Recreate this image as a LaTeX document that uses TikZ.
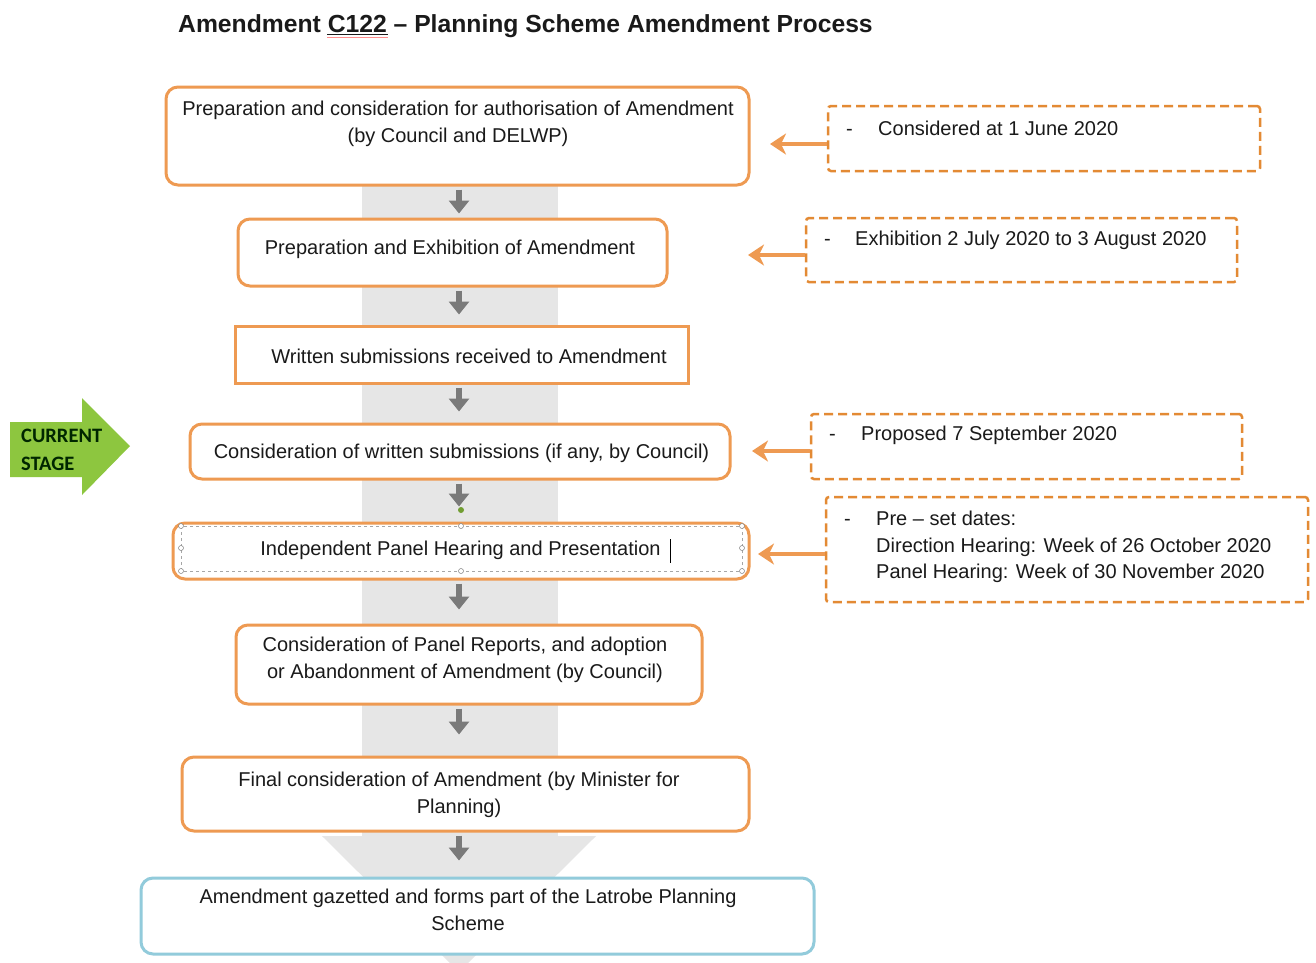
\documentclass[tikz,border=0pt]{standalone}
\usepackage{fontspec}
\setmainfont{Liberation Sans}
\newfontfamily\calib{Carlito}
\usetikzlibrary{arrows.meta}
\definecolor{obord}{HTML}{EE9A52}
\definecolor{odash}{HTML}{E38A34}
\definecolor{bbord}{HTML}{92CBDB}
\definecolor{gband}{HTML}{E6E6E6}
\definecolor{garr}{HTML}{7A7A7A}
\definecolor{cgreen}{HTML}{8DC63F}
\definecolor{txtc}{HTML}{1A1A1A}
\begin{document}
\begin{tikzpicture}[x=1pt,y=-1pt,
  box/.style={draw=obord, line width=3pt, rounded corners=12pt, fill=white, inner sep=0pt},
  sqbox/.style={box, rounded corners=0pt},
  bluebox/.style={box, draw=bbord},
  note/.style={draw=odash, line width=2.5pt, dash pattern=on 9pt off 5pt, rounded corners=3pt, inner sep=0pt},
  txt/.style={font=\fontsize{20}{27}\selectfont, text=txtc, align=center, inner sep=0pt},
  gar/.style={draw=garr, line width=6.5pt, -{Triangle[length=13pt,width=20pt]}, shorten <=3pt},
  oar/.style={draw=obord, line width=4pt, -{Stealth[length=16pt,width=21pt,inset=5pt]}},
  handle/.style={draw=gray, fill=white, line width=0.5pt}
]
\useasboundingbox (0,0) rectangle (1316,962);
\fill[white] (0,0) rectangle (1316,962);

% background band
\fill[gband] (362,150) rectangle (558,840);
\fill[gband] (322,836) -- (596,836) -- (459,972) -- cycle;

% title
\node[anchor=base west, inner sep=0pt, text=txtc, font=\bfseries\fontsize{24.7}{28}\selectfont] (title) at (178,32) {Amendment C122 -- Planning Scheme Amendment Process};
\draw[txtc, line width=1.3pt] (327,34.5) -- (388,34.5);
\draw[red!45, line width=0.9pt] (327,37.5) -- (388,37.5);

% main boxes
\node[box, minimum width=583pt, minimum height=98pt] (b1) at (457.5,136) {};
\node[box, minimum width=429pt, minimum height=67pt] (b2) at (452.5,252.5) {};
\node[sqbox, minimum width=453pt, minimum height=57pt] (b3) at (461.5,354.5) {};
\node[box, minimum width=540pt, minimum height=55pt] (b4) at (460,451.5) {};
\node[box, minimum width=576pt, minimum height=56pt] (b5) at (461,551) {};
\node[box, minimum width=466pt, minimum height=79pt] (b6) at (469,664.5) {};
\node[box, minimum width=567pt, minimum height=74pt] (b7) at (465.5,794) {};
\node[bluebox, minimum width=673pt, minimum height=76pt] (b8) at (477.5,916) {};

% texts
\node[txt] (l1) at (458,123.5) {Preparation and consideration for authorisation of Amendment\\(by Council and DELWP)};
\node[txt] (l2) at (450,249) {Preparation and Exhibition of Amendment};
\node[txt] (l3) at (469,356) {Written submissions received to Amendment};
\node[txt] (l4) at (461.5,453) {Consideration of written submissions (if any, by Council)};
\node[txt] (l5) at (460.5,550) {Independent Panel Hearing and Presentation};
\node[txt] (l6) at (465,659.5) {Consideration of Panel Reports, and adoption\\or Abandonment of Amendment (by Council)};
\node[txt] (l7) at (459,794.5) {Final consideration of Amendment (by Minister for\\Planning)};
\node[txt] (l8) at (468,909.5) {Amendment gazetted and forms part of the Latrobe Planning\\Scheme};

% selection frame on box 5
\draw[gray!70, dashed, line width=0.6pt] (181,526) rectangle (742,571);
\foreach \p in {(181,526),(742,526),(181,571),(742,571),(461,526),(461,571),(181,548),(742,548)}
  \draw[handle] \p circle (2.5pt);
\fill[cgreen!80!black] (461,510) circle (3pt);
\draw[black, line width=0.8pt] (670,539) -- (670,563);

% grey flow arrows
\coordinate (ax) at (459,0);
\draw[gar, shorten >=4pt] (b1.south -| ax) -- (b2.north -| ax);
\draw[gar, shorten >=10pt] (b2.south -| ax) -- (b3.north -| ax);
\draw[gar, shorten >=11pt] (b3.south -| ax) -- (b4.north -| ax);
\draw[gar, shorten >=15pt] (b4.south -| ax) -- (b5.north -| ax);
\draw[gar, shorten >=14pt] (b5.south -| ax) -- (b6.north -| ax);
\draw[gar, shorten >=21pt] (b6.south -| ax) -- (b7.north -| ax);
\draw[gar, shorten >=16pt] (b7.south -| ax) -- (b8.north -| ax);

% notes
\node[note, minimum width=432pt, minimum height=65pt] (n1) at (1044,138.5) {};
\node[note, minimum width=431pt, minimum height=64pt] (n2) at (1021.5,250) {};
\node[note, minimum width=431pt, minimum height=65pt] (n3) at (1026.5,446.5) {};
\node[note, minimum width=482pt, minimum height=105pt] (n4) at (1067,549.5) {};

\node[txt, anchor=west, align=left] (m1) at (846,128.5) {\makebox[32pt][l]{-}Considered at 1 June 2020};
\node[txt, anchor=west, align=left] (m2) at (824,240.5) {\makebox[31pt][l]{-}Exhibition 2 July 2020 to 3 August 2020};
\node[txt, anchor=west, align=left] (m3) at (829,435.5) {\makebox[32pt][l]{-}Proposed 7 September 2020};
\node[txt, anchor=west, align=left, font=\fontsize{20}{26.5}\selectfont] (m4) at (844,547) {\makebox[32pt][l]{-}Pre -- set dates:\\\hspace*{32pt}Direction Hearing: Week of 26 October 2020\\\hspace*{32pt}Panel Hearing: Week of 30 November 2020};

% orange pointers
\coordinate (t1) at (770,144);
\coordinate (t2) at (748,255);
\coordinate (t3) at (752,451);
\coordinate (t4) at (758,554);
\draw[oar] (n1.west |- t1) -- (t1);
\draw[oar] (n2.west |- t2) -- (t2);
\draw[oar] (n3.west |- t3) -- (t3);
\draw[oar] (n4.west |- t4) -- (t4);

% current stage arrow
\fill[cgreen] (10,422) -- (82,422) -- (82,398) -- (130,446) -- (82,495) -- (82,477) -- (10,477) -- cycle;
\node[anchor=west, align=left, inner sep=0pt, text={black!85!green}, font=\calib\bfseries\fontsize{20.5}{28}\selectfont] (cs) at (21,450) {CURRENT\\STAGE};
\end{tikzpicture}
\end{document}
